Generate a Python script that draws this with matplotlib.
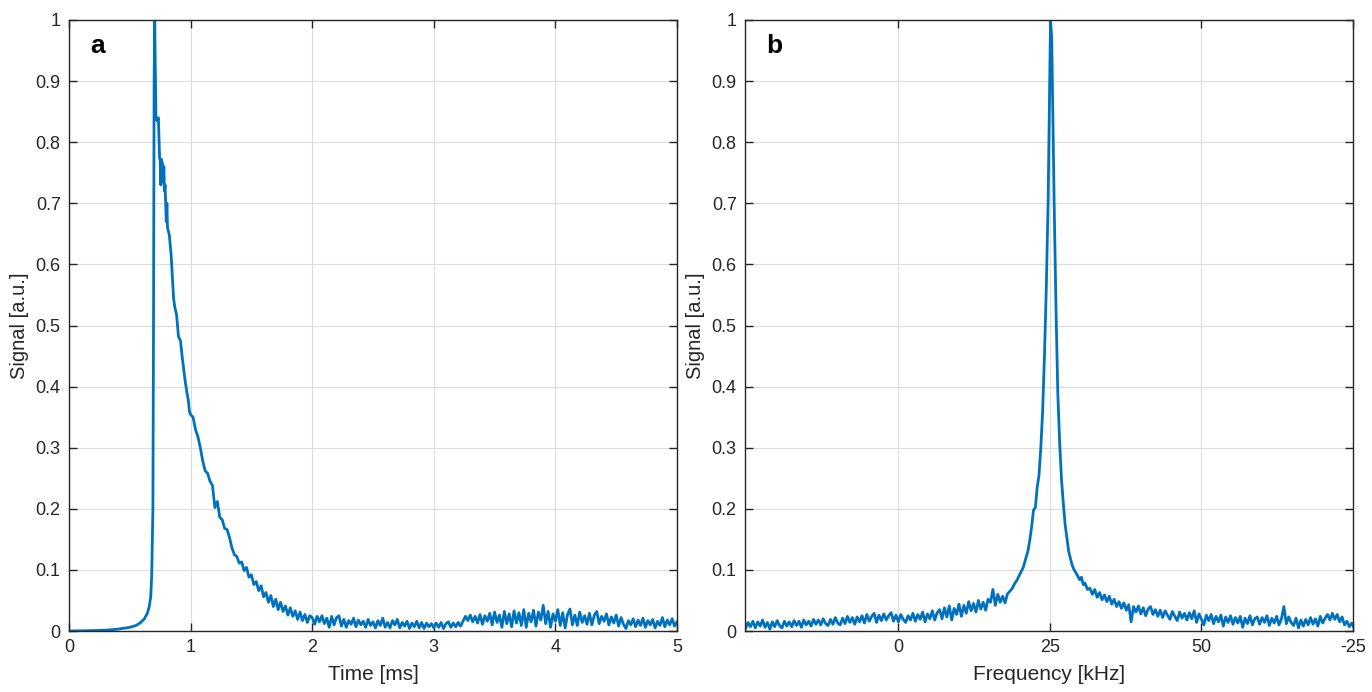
import matplotlib
matplotlib.use("Agg")
import matplotlib.pyplot as plt
import numpy as np

plt.rcParams['font.family'] = ['Liberation Sans', 'DejaVu Sans']

# ---- panel a: time signal ----
t_rise = [0, 0.1, 0.2, 0.3, 0.4, 0.5, 0.55, 0.584, 0.62, 0.644, 0.66, 0.672,
          0.68, 0.69, 0.695, 0.70]
s_rise = [0, 0.0003, 0.0007, 0.0013, 0.003, 0.006, 0.009, 0.013, 0.02, 0.029,
          0.04, 0.056, 0.09, 0.2, 0.5, 0.9]

t_head = [0.705, 0.715, 0.725, 0.735, 0.745, 0.75, 0.755, 0.76, 0.765, 0.77,
          0.775, 0.78, 0.785, 0.79, 0.80, 0.805, 0.81, 0.825, 0.84, 0.85,
          0.86, 0.87, 0.885, 0.90, 0.917, 0.93, 0.954, 0.97, 0.981, 0.99]
s_head = [1.0, 0.84, 0.835, 0.84, 0.774, 0.77, 0.73, 0.772, 0.735, 0.765,
          0.74, 0.76, 0.72, 0.73, 0.67, 0.70, 0.66, 0.648, 0.615, 0.58,
          0.545, 0.53, 0.517, 0.482, 0.475, 0.45, 0.411, 0.39, 0.378, 0.36]

# 1.00 .. 5.00 ms, step 0.02
s_tail = [
    0.354, 0.35, 0.33, 0.318, 0.30, 0.278, 0.262, 0.258, 0.245, 0.238,
    0.202, 0.212, 0.186, 0.182, 0.168, 0.166, 0.153, 0.136, 0.125, 0.122,
    0.111, 0.113, 0.099, 0.104, 0.088, 0.092, 0.076, 0.081, 0.066, 0.074,
    0.056, 0.063, 0.047, 0.058, 0.04, 0.052, 0.035, 0.047, 0.032, 0.041,
    0.026, 0.038, 0.024, 0.033, 0.019, 0.031, 0.017, 0.027, 0.014, 0.025,
    0.022, 0.011, 0.024, 0.015, 0.025, 0.012, 0.021, 0.006, 0.024, 0.01,
    0.022, 0.025, 0.008, 0.019, 0.006, 0.017, 0.011, 0.021, 0.007, 0.018,
    0.01, 0.016, 0.006, 0.019, 0.009, 0.015, 0.005, 0.017, 0.009, 0.021,
    0.006, 0.014, 0.005, 0.017, 0.01, 0.019, 0.005, 0.014, 0.008, 0.016,
    0.004, 0.013, 0.007, 0.016, 0.005, 0.014, 0.004, 0.013, 0.007, 0.012,
    0.005, 0.013, 0.006, 0.014, 0.004, 0.012, 0.015, 0.006, 0.013, 0.007,
    0.014, 0.008, 0.016, 0.024, 0.017, 0.026, 0.015, 0.024, 0.013, 0.027,
    0.011, 0.025, 0.016, 0.029, 0.01, 0.031, 0.014, 0.026, 0.006, 0.032,
    0.012, 0.028, 0.007, 0.033, 0.013, 0.03, 0.009, 0.035, 0.006, 0.029,
    0.015, 0.034, 0.008, 0.031, 0.018, 0.042, 0.012, 0.032, 0.006, 0.028,
    0.016, 0.035, 0.009, 0.03, 0.005, 0.027, 0.036, 0.01, 0.026, 0.009,
    0.031, 0.014, 0.025, 0.011, 0.029, 0.01, 0.026, 0.032, 0.012, 0.024,
    0.016, 0.028, 0.01, 0.023, 0.013, 0.026, 0.008, 0.022, 0.011, 0.004,
    0.017, 0.01, 0.02, 0.007, 0.018, 0.009, 0.021, 0.006, 0.017, 0.01,
    0.019, 0.005, 0.016, 0.009, 0.022, 0.007, 0.018, 0.01, 0.02, 0.008,
    0.015]
t_tail = np.linspace(1.0, 5.0, len(s_tail))

# ---- panel b: spectrum ----
# -25.2 .. 18.0 kHz, step 0.4
sp_left = [
    0.004, 0.014, 0.007, 0.016, 0.005, 0.015, 0.008, 0.018, 0.006, 0.014,
    0.003, 0.015, 0.007, 0.017, 0.009, 0.005, 0.016, 0.008, 0.015, 0.007,
    0.017, 0.009, 0.016, 0.006, 0.018, 0.01, 0.016, 0.008, 0.019, 0.011,
    0.018, 0.01, 0.02, 0.012, 0.009, 0.019, 0.011, 0.022, 0.013, 0.01,
    0.021, 0.012, 0.024, 0.014, 0.022, 0.011, 0.023, 0.015, 0.025, 0.013,
    0.027, 0.016, 0.024, 0.029, 0.014, 0.026, 0.017, 0.028, 0.018, 0.025,
    0.03, 0.016, 0.026, 0.015, 0.027, 0.019, 0.014, 0.025, 0.018, 0.029,
    0.016, 0.027, 0.019, 0.031, 0.015, 0.028, 0.02, 0.033, 0.018, 0.03,
    0.035, 0.02, 0.038, 0.023, 0.041, 0.018, 0.037, 0.027, 0.044, 0.024,
    0.042, 0.029, 0.048, 0.033, 0.045, 0.031, 0.05, 0.036, 0.047, 0.034,
    0.052, 0.047, 0.068, 0.042, 0.06, 0.047, 0.057, 0.046, 0.061]
f_left = np.linspace(-25.2, 18.0, len(sp_left))

f_peak = [18.4, 18.8, 19.2, 19.5, 19.9, 20.3, 20.6, 21.0, 21.4, 21.7,
          22.0, 22.3, 22.6, 22.9, 23.2, 23.5, 23.8, 24.1, 24.4, 24.7,
          24.95, 25.1, 25.3, 25.5, 25.7, 26.0, 26.3, 26.6, 26.9, 27.2,
          27.5, 27.8, 28.1, 28.4, 28.7, 29.0, 29.3, 29.6, 29.9, 30.2,
          30.5, 30.8, 31.2]
sp_peak = [0.065, 0.07, 0.078, 0.082, 0.09, 0.098, 0.104, 0.118, 0.132, 0.15,
           0.172, 0.198, 0.202, 0.235, 0.255, 0.3, 0.36, 0.45, 0.56, 0.7,
           0.88, 1.0, 0.97, 0.84, 0.7, 0.53, 0.39, 0.31, 0.25, 0.21,
           0.175, 0.152, 0.13, 0.118, 0.107, 0.1, 0.095, 0.09, 0.084, 0.088,
           0.076, 0.078, 0.068]

# 31.6 .. 75.2 kHz, step 0.4
sp_right = [
    0.07, 0.06, 0.068, 0.055, 0.063, 0.051, 0.059, 0.048, 0.057, 0.044,
    0.052, 0.04, 0.048, 0.037, 0.046, 0.034, 0.043, 0.015, 0.04, 0.031,
    0.041, 0.028, 0.038, 0.025, 0.036, 0.04, 0.027, 0.035, 0.024, 0.034,
    0.022, 0.033, 0.026, 0.019, 0.032, 0.024, 0.017, 0.031, 0.021, 0.029,
    0.018, 0.03, 0.02, 0.033, 0.014, 0.028, 0.019, 0.01, 0.026, 0.017,
    0.027, 0.012, 0.024, 0.015, 0.026, 0.008, 0.023, 0.014, 0.025, 0.011,
    0.022, 0.013, 0.024, 0.006, 0.021, 0.012, 0.025, 0.01, 0.02, 0.023,
    0.011, 0.022, 0.014, 0.025, 0.009, 0.021, 0.013, 0.024, 0.01, 0.02,
    0.04, 0.012, 0.023, 0.014, 0.009, 0.021, 0.005, 0.018, 0.008, 0.019,
    0.01, 0.022, 0.011, 0.02, 0.008, 0.024, 0.013, 0.021, 0.027, 0.018,
    0.029, 0.019, 0.027, 0.015, 0.023, 0.01, 0.016, 0.007, 0.013, 0.005]
f_right = np.linspace(31.6, 75.2, len(sp_right))

freq_ticks = [0, 25, 50, 75]
freq_labels = ['0', '25', '50', '-25']
sig_ticks = [0, 0.1, 0.2, 0.3, 0.4, 0.5, 0.6, 0.7, 0.8, 0.9, 1]

blue = '#0072BD'
edge = '#262626'


def style(ax):
    ax.set_ylim(0, 1)
    ax.set_yticks(sig_ticks)
    ax.set_yticklabels(['%g' % v for v in sig_ticks])
    ax.grid(True, color='#dcdcdc', linewidth=0.8)
    ax.set_axisbelow(True)
    ax.tick_params(direction='in', length=6, width=1.0, top=True, right=True,
                   labelsize=13, colors=edge, pad=6)
    for sp in ax.spines.values():
        sp.set_color(edge)
        sp.set_linewidth(1.0)
    ax.set_ylabel('Signal [a.u.]', fontsize=14.5, color=edge, labelpad=5)


fig = plt.figure(figsize=(13.72, 6.92), dpi=100)
ax1 = fig.add_axes([69/1372, 61/692, 608/1372, 611/692])
ax2 = fig.add_axes([745/1372, 61/692, 608/1372, 611/692])

t_all = np.concatenate([t_rise, t_head, t_tail])
s_all = np.concatenate([s_rise, s_head, s_tail])
ax1.plot(t_all, s_all, color=blue, linewidth=2.0)
ax1.set_xlim(0, 5)
ax1.set_xticks([0, 1, 2, 3, 4, 5])
style(ax1)
ax1.set_xlabel('Time [ms]', fontsize=15, color=edge, labelpad=6)
ax1.text(0.035, 0.957, 'a', transform=ax1.transAxes, fontsize=19,
         fontweight='bold', va='center', ha='left')

f_all = np.concatenate([f_left, f_peak, f_right])
sp_all = np.concatenate([sp_left, sp_peak, sp_right])
ax2.plot(f_all, sp_all, color=blue, linewidth=2.0)
ax2.set_xlim(-25.3, 75)
ax2.set_xticks(freq_ticks)
ax2.set_xticklabels(freq_labels)
style(ax2)
ax2.set_xlabel('Frequency [kHz]', fontsize=15, color=edge, labelpad=6)
ax2.text(0.035, 0.957, 'b', transform=ax2.transAxes, fontsize=19,
         fontweight='bold', va='center', ha='left')

plt.savefig('out.png', dpi=100)
plt.close()
